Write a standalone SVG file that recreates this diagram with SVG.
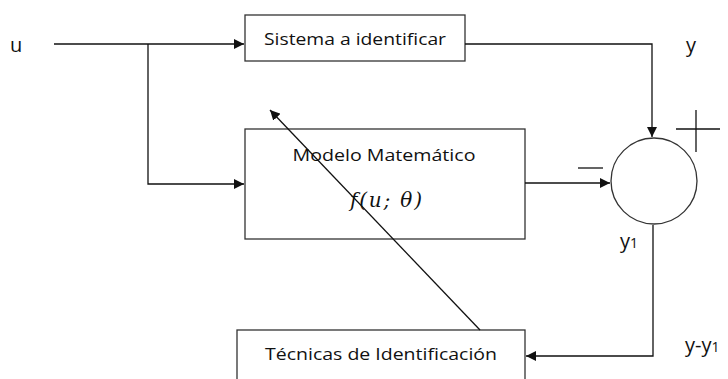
<svg xmlns="http://www.w3.org/2000/svg" width="728" height="379" viewBox="0 0 728 379">
<style>
.box{fill:#fff;stroke:#333;stroke-width:1.3}
.ln{fill:none;stroke:#111;stroke-width:1.3}
.t{font-family:"Open Sans","Liberation Sans",sans-serif;font-size:16px;fill:#111}
.lbl{font-family:"Open Sans","Liberation Sans",sans-serif;font-size:20px;fill:#111}
.m{font-family:"DejaVu Serif","Liberation Serif",serif;font-style:italic;font-size:20px;fill:#111}
</style>
<defs>
<marker id="ah" markerWidth="10" markerHeight="10" refX="10" refY="5" orient="auto" markerUnits="userSpaceOnUse">
<path d="M0,0 L10,5 L0,10 Z" fill="#111"/>
</marker>
</defs>
<rect width="728" height="379" fill="#fff"/>
<g id="sistema">
<rect class="box" x="245" y="15" width="220" height="46"/>
<text class="t" x="355" y="45" text-anchor="middle" textLength="182" lengthAdjust="spacingAndGlyphs">Sistema a identificar</text>
</g>
<g id="modelo">
<rect class="box" x="245" y="129" width="280" height="110"/>
<text class="t" x="384" y="161" text-anchor="middle" textLength="183" lengthAdjust="spacingAndGlyphs">Modelo Matemático</text>
<text class="m" x="350" y="207" textLength="72" lengthAdjust="spacing">f(u; θ)</text>
</g>
<g id="tecnicas">
<rect class="box" x="237" y="330" width="288" height="60"/>
<text class="t" x="381" y="360" text-anchor="middle" textLength="232" lengthAdjust="spacingAndGlyphs">Técnicas de Identificación</text>
</g>
<g id="sumador">
<circle cx="654" cy="181" r="43" fill="#fff" stroke="#333" stroke-width="1.3"/>
<line class="ln" x1="676" y1="129" x2="720" y2="129"/>
<line class="ln" x1="696" y1="110" x2="696" y2="152"/>
<line class="ln" x1="578" y1="168" x2="603" y2="168"/>
</g>
<g id="connectors">
<line class="ln" x1="54" y1="44" x2="244" y2="44" marker-end="url(#ah)"/>
<polyline class="ln" points="148,44 148,184 244,184" marker-end="url(#ah)"/>
<polyline class="ln" points="465,44 652,44 652,137" marker-end="url(#ah)"/>
<line class="ln" x1="525" y1="183" x2="610" y2="183" marker-end="url(#ah)"/>
<polyline class="ln" points="653,225 653,356 526,356" marker-end="url(#ah)"/>
<line class="ln" x1="480" y1="330" x2="270" y2="110" marker-end="url(#ah)"/>
</g>
<g id="labels">
<text class="lbl" x="10" y="52">u</text>
<text class="lbl" x="686" y="52">y</text>
<text class="lbl" x="620" y="248">y<tspan font-size="14">1</tspan></text>
<text class="lbl" x="685" y="352">y-y<tspan font-size="14">1</tspan></text>
</g>
</svg>
